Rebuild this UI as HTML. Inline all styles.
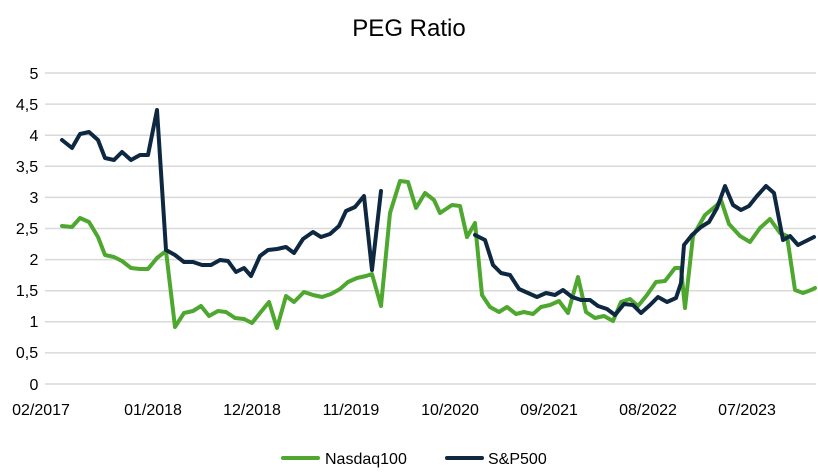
<!DOCTYPE html><html><head><meta charset="utf-8"><style>body{margin:0;background:#fff}svg{display:block;font-family:"Liberation Sans",sans-serif}</style></head><body>
<svg width="818" height="476" xmlns="http://www.w3.org/2000/svg">
<rect width="818" height="476" fill="#fff"/>
<text x="409" y="36" text-anchor="middle" font-size="24" fill="#000">PEG Ratio</text>
<g stroke="#d9d9d9" stroke-width="1.5">
<line x1="45" x2="816" y1="73" y2="73"/><line x1="45" x2="816" y1="104.1" y2="104.1"/><line x1="45" x2="816" y1="135.2" y2="135.2"/><line x1="45" x2="816" y1="166.3" y2="166.3"/><line x1="45" x2="816" y1="197.4" y2="197.4"/><line x1="45" x2="816" y1="228.5" y2="228.5"/><line x1="45" x2="816" y1="259.6" y2="259.6"/><line x1="45" x2="816" y1="290.7" y2="290.7"/><line x1="45" x2="816" y1="321.8" y2="321.8"/><line x1="45" x2="816" y1="352.9" y2="352.9"/><line x1="45" x2="816" y1="384" y2="384"/>
</g>
<g font-size="16" fill="#000" text-anchor="middle">
<text x="34" y="79">5</text><text x="27" y="110">4,5</text><text x="34" y="141">4</text><text x="27" y="172">3,5</text><text x="34" y="203">3</text><text x="27" y="234">2,5</text><text x="34" y="265">2</text><text x="27" y="296">1,5</text><text x="34" y="327">1</text><text x="27" y="358">0,5</text><text x="34" y="390">0</text>
<text x="41" y="415">02/2017</text><text x="153" y="415">01/2018</text><text x="252" y="415">12/2018</text><text x="351" y="415">11/2019</text><text x="450" y="415">10/2020</text><text x="549" y="415">09/2021</text><text x="648" y="415">08/2022</text><text x="747" y="415">07/2023</text>
</g>
<g fill="none" stroke-width="4" stroke-linejoin="round" stroke-linecap="round">
<polyline stroke="#4ea72e" points="62,226 72,227 80,218 89,222 98,237 105,255 114,257 122,261 131,268 140,269 148,269 157,258 166,251 175,327 184,313 193,311 201,306 209,316 218,311 226,312 235,318 244,319 252,323 260,313 269,302 277,328 286,296 294,302 304,292 313,295 322,297 331,294 340,289 348,282 357,278 366,276 372,274 381,306 390,213 400,181 408,182 416,208 425,193 434,200 440,213 452,205 460,206 467,237 475,223 482,295 490,307 499,312 507,307 516,314 524,312 533,314 541,307 550,305 559,301 568,313 578,277 586,312 595,318 604,316 613,321 621,302 630,299 638,306 647,295 656,282 665,281 675,268 681,268 685,308 693,236 705,215 717,205 721,200 729,224 740,236 750,242 760,228 770,219 780,233 787,236 795,290 803,293 811,290 815,288"/>
<polyline stroke="#0e2841" points="62,140 72,148 80,134 89,132 98,140 105,158 114,160 122,152 131,160 140,155 148,155 157,110 166,250 175,255 184,262 193,262 202,265 211,265 220,260 228,261 236,272 244,268 251,276 260,256 268,250 277,249 286,247 294,253 303,239 313,232 321,237 330,234 339,226 346,211 355,207 364,196 372,270 381,191"/>
<polyline stroke="#0e2841" points="475,235 485,240 493,265 501,273 510,275 519,289 528,293 537,297 546,293 555,295 563,290 572,297 581,300 590,300 598,306 607,309 615,315 624,304 633,305 641,313 650,305 658,297 667,302 676,298 681,283 684,245 692,235 701,227 709,222 717,208 725,186 733,205 741,210 749,206 757,196 766,186 774,193 783,240 790,236 798,245 806,241 814,237"/>
<line stroke="#4ea72e" x1="283" y1="458" x2="318" y2="458"/>
<line stroke="#0e2841" x1="447" y1="458" x2="482" y2="458"/>
</g>
<text x="325" y="464" font-size="16" fill="#000">Nasdaq100</text>
<text x="488" y="464" font-size="16" fill="#000">S&amp;P500</text>
</svg>
</body></html>
